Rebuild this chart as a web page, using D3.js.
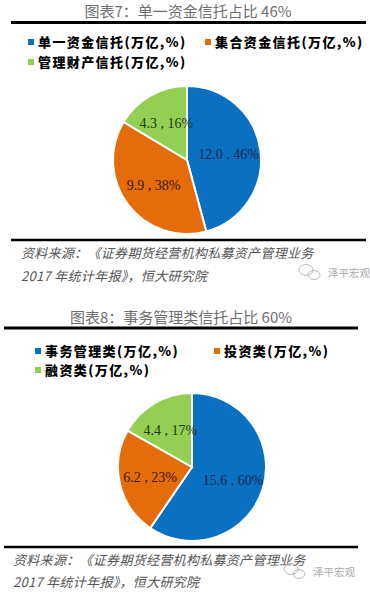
<!DOCTYPE html>
<html>
<head>
<meta charset="utf-8">
<script src="https://cdn.jsdelivr.net/npm/d3@7"></script>
<style>
  body { margin: 0; background: #fff; }
  svg { display: block; }
</style>
</head>
<body>
<svg width="370" height="596"></svg>
<script>
// chart 7 data
const cats1 = ["单一资金信托(万亿,%)", "集合资金信托(万亿,%)", "管理财产信托(万亿,%)"];
const vals1 = [12.0, 9.9, 4.3];
const pcts1 = [46, 38, 16];
// chart 8 data
const cats2 = ["事务管理类(万亿,%)", "投资类(万亿,%)", "融资类(万亿,%)"];
const vals2 = [15.6, 6.2, 4.4];
const pcts2 = [60, 23, 17];

const colors = ["#0A70C2", "#E46C0A", "#92CF52"];
const labelColors = ["#15284f", "#3a1a05", "#1c3a10"];
const sourceLines = ["资料来源：《证券期货经营机构私募资产管理业务", "2017 年统计年报》，恒大研究院"];

const svg = d3.select("svg");

function drawPie(g, o) {
    // title + rule
    g.append("text").attr("x", o.titleX).attr("y", o.titleY)
        .attr("text-anchor", "middle")
        .attr("font-family", "Noto Sans CJK SC").attr("font-size", 15)
        .attr("fill", "#707070").text(o.title);
    g.append("line").attr("x1", o.lineX1).attr("x2", o.lineX2)
        .attr("y1", o.topLine).attr("y2", o.topLine)
        .attr("stroke", "#000").attr("stroke-width", 3);

    // legend
    o.cats.forEach((c, i) => {
        const lx = o.legendX[i], ly = o.legendY[i];
        g.append("rect").attr("x", lx).attr("y", ly - 3).attr("width", 6).attr("height", 6)
            .attr("fill", colors[i]);
        g.append("text").attr("x", lx + 10).attr("y", ly + 5)
            .attr("font-family", "Noto Sans CJK SC").attr("font-weight", 900)
            .attr("font-size", 13).attr("letter-spacing", 1.4)
            .attr("fill", "#000").text(c);
    });

    // pie
    const pie = d3.pie().sort(null).value(d => d);
    const arc = d3.arc().innerRadius(0).outerRadius(o.r);
    const labelArc = d3.arc().innerRadius(o.lr).outerRadius(o.lr);
    const pg = g.append("g").attr("transform", `translate(${o.cx},${o.cy})`);
    const arcs = pie(o.vals);
    pg.selectAll("path").data(arcs).enter().append("path")
        .attr("d", arc).attr("fill", (d, i) => colors[i])
        .attr("stroke", "#fff").attr("stroke-width", 2);
    pg.selectAll("text").data(arcs).enter().append("text")
        .attr("transform", d => `translate(${labelArc.centroid(d)})`)
        .attr("text-anchor", "middle").attr("dy", "0.35em")
        .attr("font-family", "Liberation Serif").attr("font-size", 14)
        .attr("fill", (d, i) => labelColors[i])
        .text((d, i) => `${o.vals[i].toFixed(1)} , ${o.pcts[i]}%`);

    // bottom rule + source
    g.append("line").attr("x1", o.lineX1).attr("x2", o.lineX2)
        .attr("y1", o.botLine).attr("y2", o.botLine)
        .attr("stroke", "#000").attr("stroke-width", 2.5);
    sourceLines.forEach((s, i) => {
        g.append("text").attr("x", o.srcX).attr("y", o.srcY[i])
            .attr("font-family", "Noto Sans CJK SC").attr("font-style", "italic")
            .attr("font-size", 13).attr("letter-spacing", 0.3)
            .attr("fill", "#555").text(s);
    });

    // watermark
    const wm = g.append("g").attr("transform", `translate(${o.wmX},${o.wmY})`)
        .attr("fill", "none").attr("stroke", "#bbb").attr("stroke-width", 1);
    wm.append("ellipse").attr("cx", 0).attr("cy", -3).attr("rx", 7).attr("ry", 5.5);
    wm.append("ellipse").attr("cx", 8).attr("cy", 2).attr("rx", 6).attr("ry", 4.5);
    g.append("text").attr("x", o.wmX + 22).attr("y", o.wmY + 4)
        .attr("font-family", "Noto Sans CJK SC").attr("font-size", 10.5)
        .attr("fill", "#aaa").text("泽平宏观");
}

drawPie(svg.append("g"), {
    title: "图表7：单一资金信托占比 46%", titleX: 188, titleY: 17,
    topLine: 22.5, botLine: 240, lineX1: 11, lineX2: 366,
    cats: cats1, vals: vals1, pcts: pcts1,
    legendX: [28, 205, 28], legendY: [42, 42, 62],
    cx: 187, cy: 160, r: 74, lr: 42,
    srcX: 21, srcY: [258, 281], wmX: 306, wmY: 273
});

drawPie(svg.append("g"), {
    title: "图表8：事务管理类信托占比 60%", titleX: 181, titleY: 323,
    topLine: 328, botLine: 547, lineX1: 4, lineX2: 358,
    cats: cats2, vals: vals2, pcts: pcts2,
    legendX: [35, 214, 35], legendY: [351, 351, 370],
    cx: 192, cy: 467, r: 74, lr: 43,
    srcX: 13, srcY: [565, 587], wmX: 291, wmY: 572
});
</script>
</body>
</html>
